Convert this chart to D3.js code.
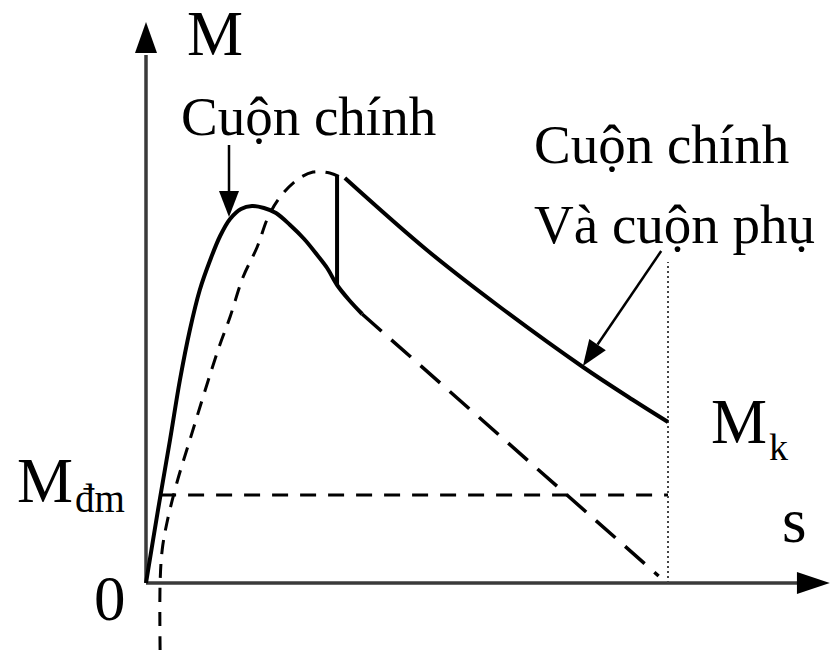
<!DOCTYPE html>
<html>
<head>
<meta charset="utf-8">
<script src="https://cdn.jsdelivr.net/npm/d3@7"></script>
<style>
  body { margin: 0; background: #fff; }
  text { font-family: "Liberation Serif", "Times New Roman", serif; fill: #000; }
</style>
</head>
<body>
<div id="chart"></div>
<script>
// curve of the main winding (s, M) - solid part
const mainSolid = [
  [0, 0], [0.023, 18.25], [0.046, 35.75], [0.065, 50.75], [0.084, 63.25],
  [0.103, 73.25], [0.123, 80.75], [0.142, 86.75], [0.161, 91], [0.182, 93.5],
  [0.203, 94.25], [0.226, 93.75], [0.249, 92.5], [0.276, 89.5], [0.303, 86],
  [0.328, 82], [0.347, 78.75], [0.366, 74.5], [0.389, 70.75], [0.414, 67.25]
];
// continuation of the main winding, dashed
const mainDashed = [[0.414, 67.25], [0.982, 1.75]];
// main + auxiliary winding: dashed rising part
const auxDashed = [
  [0.027, -16.75], [0.027, 0], [0.031, 8.25], [0.040, 15], [0.059, 25],
  [0.084, 35.75], [0.138, 58.25], [0.161, 66.5], [0.186, 76.5], [0.213, 84],
  [0.234, 91.5], [0.257, 96.5], [0.289, 100.75], [0.320, 102.75], [0.352, 102.5],
  [0.372, 101.5]
];
// main + auxiliary winding: solid falling part
const auxSolid = [
  [0.381, 101.25], [0.538, 83.25], [0.678, 69], [0.837, 54], [0.933, 45.75], [1, 40.25]
];
const switchS = 0.366, switchM = [74.5, 102];
const mDm = 22, mDmStart = 0.027;
const sMax = 1, dotTop = 80.25;

const svg = d3.select("#chart").append("svg")
  .attr("width", 834).attr("height", 650);

const x = d3.scaleLinear().domain([0, 1]).range([146, 668]);
const y = d3.scaleLinear().domain([0, 100]).range([583, 183]);

const line = d3.line().x(d => x(d[0])).y(d => y(d[1])).curve(d3.curveCatmullRom.alpha(0.5));

// axes
const axisCol = "#3a3a3a";
svg.append("line").attr("x1", x(0)).attr("y1", y(0)).attr("x2", x(0)).attr("y2", y(132))
  .attr("stroke", axisCol).attr("stroke-width", 3.5);
svg.append("polygon")
  .attr("points", `${x(0)},${y(140.25)} ${x(0) - 11},${y(132.5)} ${x(0) + 11},${y(132.5)}`)
  .attr("fill", "#000");
svg.append("line").attr("x1", x(0)).attr("y1", y(0)).attr("x2", x(1.25)).attr("y2", y(0))
  .attr("stroke", axisCol).attr("stroke-width", 3.5);
svg.append("polygon")
  .attr("points", `${x(1.31)},${y(0)} ${x(1.247)},${y(0) - 11} ${x(1.247)},${y(0) + 11}`)
  .attr("fill", "#000");

// M_dm horizontal dashed
svg.append("line").attr("x1", x(mDmStart)).attr("x2", x(sMax)).attr("y1", y(mDm)).attr("y2", y(mDm))
  .attr("stroke", "#000").attr("stroke-width", 3).attr("stroke-dasharray", "16,12");

// dotted vertical at s max
svg.append("line").attr("x1", x(sMax)).attr("x2", x(sMax)).attr("y1", y(0)).attr("y2", y(dotTop))
  .attr("stroke", "#444").attr("stroke-width", 2).attr("stroke-dasharray", "2,3");

// curves
svg.append("path").attr("d", line(mainSolid)).attr("fill", "none")
  .attr("stroke", "#000").attr("stroke-width", 4);
svg.append("path").attr("d", line(mainDashed)).attr("fill", "none")
  .attr("stroke", "#000").attr("stroke-width", 3.5).attr("stroke-dasharray", "26,13");
svg.append("path").attr("d", line(auxDashed)).attr("fill", "none")
  .attr("stroke", "#000").attr("stroke-width", 3).attr("stroke-dasharray", "14,10");
svg.append("path").attr("d", line(auxSolid)).attr("fill", "none")
  .attr("stroke", "#000").attr("stroke-width", 4);
svg.append("line").attr("x1", x(switchS)).attr("x2", x(switchS))
  .attr("y1", y(switchM[0])).attr("y2", y(switchM[1]))
  .attr("stroke", "#000").attr("stroke-width", 4);

// annotation arrows
function arrow(from, to) {
  const x1 = x(from[0]), y1 = y(from[1]), x2 = x(to[0]), y2 = y(to[1]);
  const a = Math.atan2(y2 - y1, x2 - x1), len = 26, hw = 10;
  const bx = x2 - len * Math.cos(a), by = y2 - len * Math.sin(a);
  svg.append("line").attr("x1", x1).attr("y1", y1).attr("x2", bx).attr("y2", by)
    .attr("stroke", "#000").attr("stroke-width", 2.5);
  svg.append("polygon")
    .attr("points", `${x2},${y2} ${bx + hw * Math.sin(a)},${by - hw * Math.cos(a)} ${bx - hw * Math.sin(a)},${by + hw * Math.cos(a)}`)
    .attr("fill", "#000");
}
arrow([0.159, 109.5], [0.159, 91.5]);
arrow([0.987, 83], [0.837, 54.25]);

// labels
function label(tx, ty, str, size) {
  return svg.append("text").attr("x", tx).attr("y", ty).style("font-size", size + "px").text(str);
}
label(187, 55, "M", 63);
label(181, 135, "Cuộn chính", 55);
label(534, 163, "Cuộn chính", 55);
label(534, 243, "Và cuộn phụ", 55);
label(711, 443, "M", 63);
label(769, 460, "k", 38);
label(17, 502, "M", 63);
label(75, 512, "đm", 39);
label(94, 620, "0", 63);
label(782, 542, "s", 63);
</script>
</body>
</html>
